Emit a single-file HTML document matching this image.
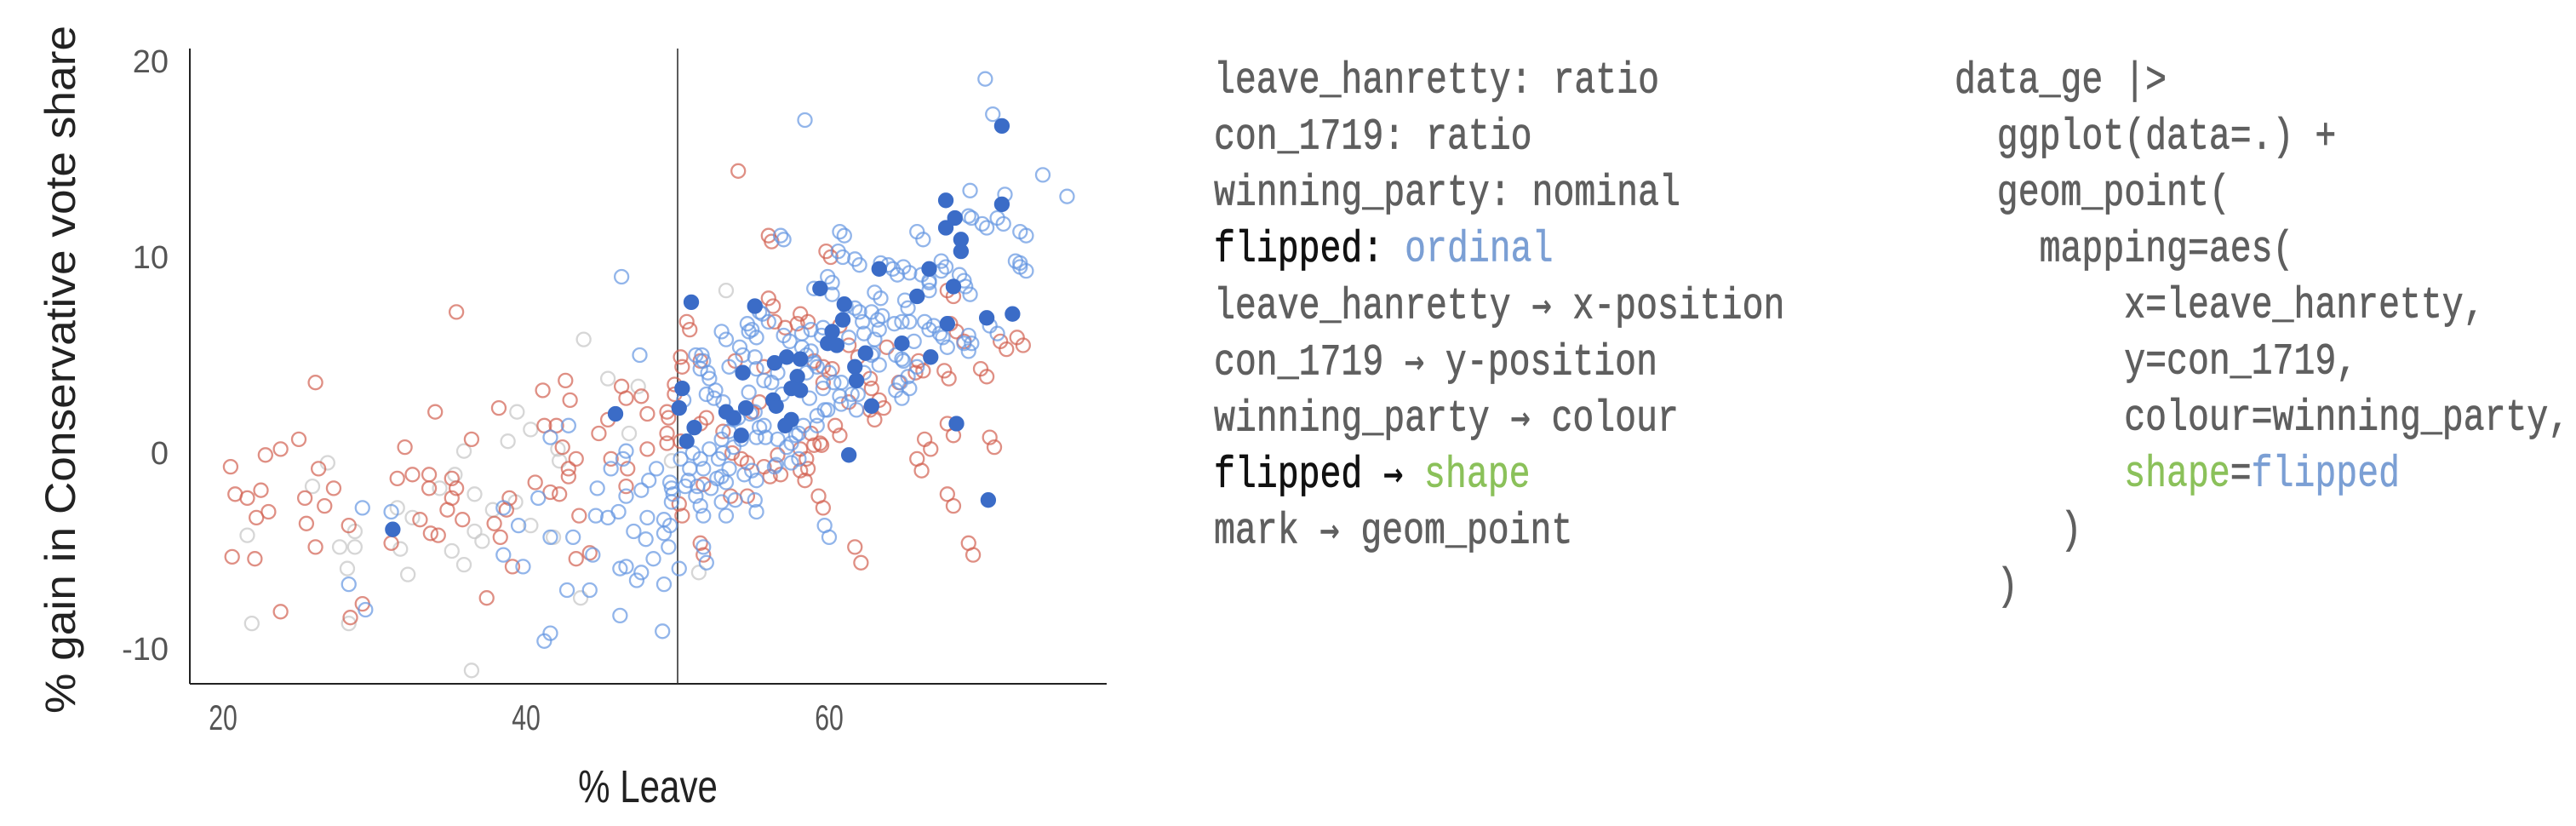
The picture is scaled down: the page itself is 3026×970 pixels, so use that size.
<!DOCTYPE html>
<html><head><meta charset="utf-8">
<style>
html,body{margin:0;padding:0;background:#fff;}
#wrap{position:relative;width:3026px;height:970px;overflow:hidden;background:#fff;}
.ln{position:absolute;font-family:"Liberation Mono",monospace;font-size:41.5px;color:#5f5f5f;white-space:pre;transform:scaleY(1.25);transform-origin:0 100%;line-height:1;-webkit-text-stroke:0.6px #5f5f5f;}
.k{color:#111;-webkit-text-stroke:0.6px #111}.b{color:#7b9fd4;-webkit-text-stroke:0.4px #7b9fd4}.g{color:#8bc15a;-webkit-text-stroke:0.4px #8bc15a}
.ar{font-family:"DejaVu Sans Mono",monospace;font-size:38px;}
</style></head>
<body><div id="wrap">
<svg id="chart" width="1400" height="970" style="position:absolute;left:0;top:0" xmlns="http://www.w3.org/2000/svg"></svg>

<div>
<div class="ln" style="left:1426px;top:80px">leave_hanretty: ratio</div>
<div class="ln" style="left:1426px;top:146px">con_1719: ratio</div>
<div class="ln" style="left:1426px;top:212px">winning_party: nominal</div>
<div class="ln" style="left:1426px;top:278px"><span class="k">flipped:</span> <span class="b">ordinal</span></div>
<div class="ln" style="left:1426px;top:344px">leave_hanretty <span class="ar">→</span> x-position</div>
<div class="ln" style="left:1426px;top:410px">con_1719 <span class="ar">→</span> y-position</div>
<div class="ln" style="left:1426px;top:476px">winning_party <span class="ar">→</span> colour</div>
<div class="ln" style="left:1426px;top:542px"><span class="k">flipped <span class="ar">→</span> </span><span class="g">shape</span></div>
<div class="ln" style="left:1426px;top:608px">mark <span class="ar">→</span> geom_point</div>
</div>

<div>
<div class="ln" style="left:2296px;top:80px">data_ge |&gt;</div>
<div class="ln" style="left:2296px;top:146px">  ggplot(data=.) +</div>
<div class="ln" style="left:2296px;top:212px">  geom_point(</div>
<div class="ln" style="left:2296px;top:278px">    mapping=aes(</div>
<div class="ln" style="left:2296px;top:344px">        x=leave_hanretty,</div>
<div class="ln" style="left:2296px;top:410px">        y=con_1719,</div>
<div class="ln" style="left:2296px;top:476px">        colour=winning_party,</div>
<div class="ln" style="left:2296px;top:542px">        <span class="g">shape</span>=<span class="b">flipped</span></div>
<div class="ln" style="left:2296px;top:608px">     )</div>
<div class="ln" style="left:2296px;top:674px">  )</div>
</div>
</div>
<script>
const xTicks=[20,40,60];
const yTicks=[20,10,0,-10];
const flippedX=[50.9,71.4,67.7,71.4,68.3,67.7,68.7,68.7,63.3,66.6,59.4,65.8,68.2,55.1,61.0,60.9,70.4,72.1,67.8,60.2,59.9,64.8,60.5,62.4,66.7,57.2,58.1,56.4,61.7,54.3,61.8,57.9,50.3,57.5,58.1,56.3,50.1,54.5,53.2,56.5,45.9,62.8,53.7,57.5,57.1,68.4,51.1,54.2,50.6,61.3,31.2,70.5];
const flippedY=[7.7,16.7,12.9,12.7,12.0,11.5,10.9,10.3,9.4,9.4,8.4,8.0,8.5,7.5,7.6,6.8,6.9,7.1,6.6,6.2,5.6,5.6,5.5,5.1,4.9,4.9,4.8,4.6,4.4,4.1,3.7,3.9,3.3,3.3,3.2,2.7,2.3,2.3,2.1,2.4,2.0,2.4,1.8,1.7,1.4,1.5,1.3,0.9,0.6,-0.1,-3.9,-2.4];
const labourX=[54.0,35.4,26.1,56.2,60.1,56.3,50.8,58.6,57.1,68.2,68.4,72.8,71.7,70.4,67.9,66.2,63.8,62.8,63.6,63.0,60.7,59.4,58.6,58.4,56.8,56.1,68.2,66.7,70.9,66.1,68.2,59.6,62.1,69.5,50.3,49.8,49.4,49.3,50.3,51.7,42.6,41.1,42.9,38.2,41.2,42.0,42.4,44.8,45.4,46.3,46.6,47.6,48.0,48.0,46.7,46.6,45.6,43.3,42.8,42.8,41.6,42.2,40.6,38.9,38.7,37.9,38.3,39.1,37.4,43.3,44.2,43.5,34.0,36.4,32.0,31.5,32.5,33.6,33.6,35.1,35.4,35.1,34.8,35.8,33.0,33.7,34.2,31.1,28.3,29.2,28.4,25.0,23.8,22.8,20.5,26.3,27.3,26.7,25.4,25.5,26.1,22.5,21.6,23.0,22.2,20.8,20.6,22.1,23.8,
56.0,59.8,56.0,50.6,56.4,58.1,57.9,60.7,67.8,68.0,68.9,71.3,72.4,70.0,67.6,65.9,65.7,64.6,63.3,62.7,62.7,61.9,61.3,60.2,59.6,59.0,59.6,61.3,60.4,58.8,59.0,59.5,58.5,58.1,58.1,56.6,55.7,54.6,54.2,53.6,53.0,51.9,51.5,50.2,51.5,53.8,55.7,55.4,54.9,49.8,49.3,49.3,50.2,51.7,50.1,53.5,54.6,59.3,67.8,66.3,65.8,70.6,67.8,69.2,61.7,51.5];
const labourY=[14.4,7.2,3.6,10.8,10.0,7.5,6.3,6.7,6.4,8.0,6.2,5.5,5.3,3.9,3.8,4.2,5.4,3.3,2.3,1.7,0.9,0.5,-0.8,-1.4,-1.1,-1.2,0.9,0.2,0.3,-0.9,-2.7,-2.8,-5.6,-5.2,4.4,3.0,1.8,0.5,-3.2,-5.2,3.7,3.2,2.7,2.3,1.4,1.4,0.3,1.0,1.7,3.4,2.8,2.9,2.0,0.2,-0.8,-1.7,-0.3,-0.3,-0.8,-1.2,-2.0,-2.1,-1.5,-2.3,-2.9,-3.6,-4.3,-5.8,-7.4,-5.4,-5.1,-3.2,2.1,0.7,0.3,-1.3,-1.1,-1.1,-1.8,-1.3,-1.8,-2.3,-2.9,-3.4,-3.4,-4.1,-4.2,-4.6,-3.7,-7.7,-8.4,0.7,0.2,-0.1,-0.7,-0.8,-1.8,-2.7,-2.3,-3.6,-4.8,-1.9,-2.3,-3.0,-3.3,-2.1,-5.3,-5.4,-8.1,
11.1,10.3,7.9,6.7,6.7,7.1,6.6,6.5,8.3,6.6,5.7,5.7,5.9,4.3,4.2,4.7,4.1,3.6,2.7,2.2,3.8,4.9,5.5,4.3,3.6,4.7,4.4,2.6,1.4,1.0,0.4,0.4,-0.3,-0.9,0.2,-0.1,-0.7,-0.5,-0.3,0.0,1.1,1.8,1.5,4.9,4.7,4.7,4.4,2.6,2.1,3.5,2.1,1.0,0.6,-1.6,-2.6,-2.2,-2.2,-2.2,1.5,0.7,-0.3,0.8,-2.1,-4.6,-4.8,-4.6];
const conX=[70.3,58.4,70.8,74.1,75.7,69.3,71.6,69.4,71.5,70.4,73.0,66.2,57.0,61.0,60.9,62.0,63.9,64.5,65.3,67.7,72.6,73.0,68.9,69.3,66.6,60.2,63.4,65.2,66.6,62.0,63.2,64.3,65.3,66.6,67.3,69.4,69.2,71.1,67.8,46.3,47.5,53.2,54.7,55.2,55.4,56.0,54.3,51.7,52.0,52.5,53.0,55.2,55.7,58.2,59.0,60.0,60.8,62.3,63.3,64.8,65.8,65.3,64.8,58.7,59.7,60.8,61.8,59.2,55.7,55.2,53.7,52.7,51.7,50.7,49.6,51.2,52.2,53.2,54.4,55.2,56.5,57.2,58.0,48.6,48.1,47.6,46.4,45.6,46.6,46.1,45.4,44.6,48.0,47.1,47.9,49.1,49.4,48.4,47.6,46.6,46.2,47.3,49.1,50.1,44.4,42.7,44.2,46.2,49.0,41.6,41.2,44.7,43.1,41.6,40.8,39.5,39.8,38.5,38.5,42.8,41.6,46.6,49.6,51.7,53.2,55.2,60.0,51.9,29.2,31.1,28.3,29.4,53.7,57.8,56.9,54.8,61.5,63.0,59.5,58.0,53.0,
60.7,56.8,69.2,70.1,71.1,72.6,65.8,60.6,61.7,63.4,64.2,64.9,67.4,66.1,66.6,67.4,68.6,69.0,72.3,59.9,59.0,60.2,63.0,65.0,64.8,62.8,63.5,61.7,61.1,62.2,66.3,66.9,67.5,63.3,65.6,69.2,70.6,68.9,64.4,64.9,64.7,64.4,65.2,62.9,62.3,61.3,58.8,58.2,57.0,57.4,58.8,59.6,58.5,54.6,54.9,52.9,55.6,55.1,54.1,55.1,53.4,51.6,51.2,51.5,52.1,51.9,52.4,50.4,54.7,55.1,55.4,55.8,56.6,57.5,58.3,59.2,59.9,60.7,61.9,62.8,56.6,56.2,58.5,59.2,60.3,59.6,54.0,53.4,52.9,54.2,52.1,51.0,50.2,50.8,51.5,53.4,52.9,54.9,57.5,56.4,52.6,51.3,50.5,49.7,49.5,51.5,52.9,53.8,55.1,59.7,49.5,49.1,51.7,72.6];
const conY=[19.1,17.0,17.3,14.2,13.1,13.4,13.2,12.0,11.7,11.5,11.1,10.9,10.9,11.1,10.0,9.6,9.6,9.1,9.2,9.5,9.5,9.3,8.8,8.1,8.3,8.7,7.9,7.4,8.8,7.2,6.8,6.6,6.7,6.3,6.1,5.6,5.2,6.1,5.4,9.0,5.0,5.8,6.2,5.9,7.2,6.7,5.0,4.7,4.1,3.2,2.6,4.3,3.7,5.4,4.6,4.1,3.6,4.1,4.5,4.8,4.4,3.3,2.8,2.8,2.2,2.5,2.2,1.4,1.4,0.8,0.3,-0.3,-0.8,-1.4,-1.8,-2.2,-1.8,-1.5,-1.1,-1.4,-0.6,0.3,-0.3,-0.8,-1.4,-1.9,-0.3,-0.8,-2.2,-3.0,-3.3,-3.2,-3.3,-4.0,-4.4,-4.1,-4.8,-5.4,-6.1,-5.8,-5.9,-6.5,-6.7,-5.9,-5.2,-7.0,-7.0,-8.3,-9.1,-9.2,-9.6,-1.8,-4.3,-4.3,-2.3,-3.7,-5.8,-5.2,-2.8,1.4,0.8,0.1,-2.5,-3.2,-3.2,-3.0,-4.3,-5.6,-2.8,-3.0,-6.7,-8.0,1.7,0.9,3.0,2.0,3.0,5.8,6.0,1.0,0.0,
11.3,11.1,12.1,11.7,12.0,11.3,11.3,10.3,9.9,9.7,9.4,9.5,9.8,9.1,8.7,9.3,9.1,8.5,9.8,9.0,8.4,8.1,8.2,7.8,6.7,7.2,7.0,7.4,7.5,6.7,6.7,6.5,5.9,6.3,5.7,6.0,6.5,5.6,5.0,4.7,3.6,3.2,3.9,5.1,6.1,5.9,6.3,6.1,6.0,5.7,5.2,6.4,5.0,6.6,6.3,6.2,7.1,7.5,5.4,4.9,4.4,5.0,5.0,4.3,3.8,3.0,2.8,2.7,3.1,2.1,1.3,0.8,0.7,0.5,1.4,1.9,2.2,2.9,3.0,5.0,4.1,3.6,4.1,4.4,3.6,3.3,1.8,1.1,0.7,0.7,0.2,0.0,-0.3,-0.8,-0.3,-0.8,-1.2,-0.9,-0.5,-0.7,-1.3,-1.7,-1.7,-2.1,-1.5,-2.7,-2.5,-2.4,-2.4,-3.7,-3.7,-3.4,-4.8,9.7];
const otherX=[53.2,43.8,45.4,47.4,39.4,40.3,38.8,35.9,26.9,25.9,28.7,27.7,28.7,28.2,32.2,31.7,31.5,32.5,21.6,21.9,28.3,36.4,35.1,35.9,36.6,37.1,36.6,35.3,34.3,37.8,39.3,40.3,41.8,43.6,42.2,42.1,46.8,51.4,49.6];
const otherY=[8.3,5.8,3.8,3.4,2.1,1.2,0.6,0.1,-0.5,-1.7,-4.0,-4.8,-4.8,-5.9,-6.2,-4.9,-2.8,-3.3,-4.2,-8.7,-8.7,-11.1,-5.0,-5.7,-4.0,-4.5,-2.1,-1.1,-1.8,-2.9,-2.5,-3.7,-4.3,-7.4,-0.4,0.2,1.0,-6.1,-0.4];

const NS='http://www.w3.org/2000/svg';
const svg=document.getElementById('chart');
const X0=223,X1=1300,Y0=57,Y1=803;
function sx(v){return 262+(v-20)*17.8;}
function sy(v){return 532-v*23.0;}
function mk(tag,attrs,parent){const e=document.createElementNS(NS,tag);for(const k in attrs)e.setAttribute(k,attrs[k]);(parent||svg).appendChild(e);return e;}

const axes=mk('g',{});


const yAxis=mk('line',{x1:X0,y1:Y0,x2:X0,y2:Y1,stroke:'#222','stroke-width':2},axes);


const xAxis=mk('line',{x1:X0,y1:Y1,x2:X1,y2:Y1,stroke:'#222','stroke-width':2},axes);


const ref=mk('line',{x1:sx(50),y1:Y0,x2:sx(50),y2:Y1,stroke:'#333','stroke-width':1.6},axes);



xTicks.forEach(t=>{
  const e=mk('text',{x:0,y:0,'text-anchor':'middle','font-family':'Liberation Sans, sans-serif','font-size':42,fill:'#555',transform:'translate('+sx(t)+',857) scale(0.72,1)'},axes);
  e.textContent=t;
  
  
});
yTicks.forEach(t=>{
  const e=mk('text',{x:198,y:sy(t)+13,'text-anchor':'end','font-family':'Liberation Sans, sans-serif','font-size':38,fill:'#555'},axes);
  e.textContent=t;
  
  
});
const xt=mk('text',{x:0,y:0,'text-anchor':'middle','font-family':'Liberation Sans, sans-serif','font-size':54,fill:'#222',transform:'translate(761,942) scale(0.78,1)'});
xt.textContent='% Leave';


const yt=mk('text',{x:0,y:0,'text-anchor':'middle','font-family':'Liberation Sans, sans-serif','font-size':50,fill:'#222',textLength:808,lengthAdjust:'spacingAndGlyphs',transform:'translate(88,434) rotate(-90)'});
yt.textContent='% gain in Conservative vote share';



function series(xs,ys,stroke,fill,name){
  const g=mk('g',{});
  
  
  for(let i=0;i<xs.length;i++){
    const c=mk('circle',{cx:sx(xs[i]),cy:sy(ys[i]),r:8,fill:fill,stroke:stroke,'stroke-width':2.3},g);
    
    
  }
}
series(otherX,otherY,'rgba(200,200,200,0.75)','none','other');
series(labourX,labourY,'rgba(210,95,80,0.7)','none','labour');
series(conX,conY,'rgba(100,150,225,0.7)','none','conservative');
series(flippedX,flippedY,'#3b6cc7','#3b6cc7','flipped');
</script>
</body></html>
